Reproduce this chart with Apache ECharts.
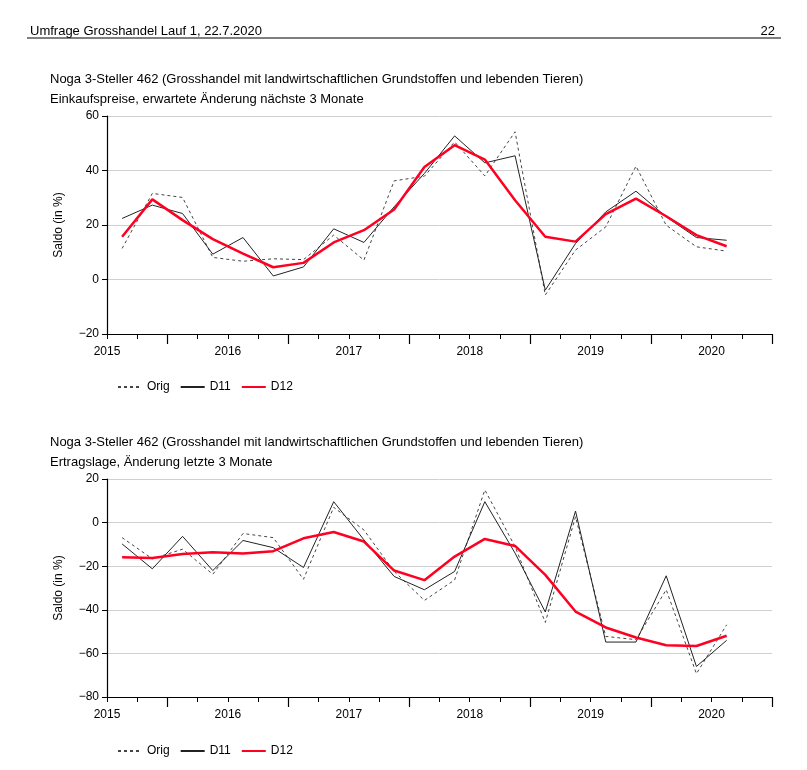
<!DOCTYPE html>
<html>
<head>
<meta charset="utf-8">
<script src="https://cdn.jsdelivr.net/npm/echarts@6/dist/echarts.min.js"></script>
<style>
  html, body { margin: 0; padding: 0; background: #fff; }
  #chart { width: 807px; height: 770px; }
</style>
</head>
<body>
<div id="chart"></div>
<script>
// quarterly points, placed mid-quarter
var startT = 2015.125;
var yearTicks = [2015, 2016, 2017, 2018, 2019, 2020];
var midYearTicks = [2015.5, 2016.5, 2017.5, 2018.5, 2019.5, 2020.5];

// Einkaufspreise, erwartete Änderung nächste 3 Monate
var ekOrig = [11.4, 31.6, 30.1, 8.1, 6.7, 7.6, 7.3, 16.3, 7.1, 36.2, 37.9, 50.5, 38.0, 54.2, -5.7, 10.8, 19.3, 41.6, 19.9, 12.0, 10.4];
var ekD11 = [22.4, 27.3, 24.2, 9.3, 15.4, 1.3, 4.6, 18.6, 13.6, 26.7, 38.9, 52.7, 42.8, 45.4, -3.9, 13.2, 24.8, 32.4, 23.0, 15.4, 14.4];
var ekD12 = [15.7, 29.4, 21.8, 14.8, 9.5, 4.5, 6.1, 13.6, 18.1, 25.7, 41.3, 49.3, 44.0, 29.1, 15.7, 13.9, 24.0, 29.7, 23.2, 16.3, 12.2];

// Ertragslage, Änderung letzte 3 Monate
var erOrig = [-6.9, -16.6, -12.2, -23.7, -5.0, -6.9, -26.0, 7.0, -3.4, -22.4, -35.7, -26.3, 15.0, -11.0, -45.8, 2.7, -52.2, -53.7, -30.8, -69.3, -46.9];
var erD11 = [-9.8, -21.2, -6.3, -22.0, -8.2, -11.5, -20.6, 9.6, -7.9, -24.7, -30.8, -22.4, 9.6, -14.0, -41.0, 5.3, -54.8, -54.8, -24.4, -66.0, -54.0];
var erD12 = [-15.9, -16.2, -14.4, -13.6, -14.2, -13.1, -7.2, -4.3, -8.7, -22.0, -26.4, -15.6, -7.5, -10.7, -24.0, -40.8, -48.1, -52.7, -56.3, -56.6, -51.9];

function pairs(arr) {
    return arr.map(function (v, i) { return [startT + i * 0.25, v]; });
}

var font = 'Liberation Sans, Arial, sans-serif';
var grids = [
    { left: 107, top: 116, width: 665, height: 218 },
    { left: 107, top: 479, width: 665, height: 218 }
];

function xAxes(gi) {
    return [{
        type: 'value', gridIndex: gi, min: 2015, max: 2020.5, interval: 0.25,
        axisLine: { onZero: false, lineStyle: { color: '#000', width: 1.2 } },
        axisTick: { length: 5, lineStyle: { color: '#000' } },
        axisLabel: { customValues: yearTicks, color: '#000', fontSize: 12, fontFamily: font, margin: 12,
                     formatter: function (v) { return String(Math.round(v)); } },
        splitLine: { show: false }
    }, {
        type: 'value', gridIndex: gi, min: 2015, max: 2020.5, position: 'bottom',
        axisLine: { show: false, onZero: false },
        axisTick: { customValues: midYearTicks, length: 10, lineStyle: { color: '#000', width: 1.2 } },
        axisLabel: { show: false },
        splitLine: { show: false }
    }];
}

function yAxis(gi, min, max) {
    return {
        type: 'value', gridIndex: gi, min: min, max: max, interval: 20,
        name: 'Saldo (in %)', nameLocation: 'middle', nameGap: 42, nameRotate: 90,
        nameTextStyle: { color: '#000', fontSize: 12, fontFamily: font },
        axisLine: { show: true, lineStyle: { color: '#000', width: 1.2 } },
        axisTick: { show: true, length: 5, lineStyle: { color: '#000' } },
        axisLabel: { color: '#000', fontSize: 12, fontFamily: font, margin: 8,
                     formatter: function (v) { return v < 0 ? '\u2212' + (-v) : String(v); } },
        splitLine: { lineStyle: { color: '#d0d0d0', width: 1 } }
    };
}

function seriesFor(gi, orig, d11, d12) {
    var xi = gi * 2;
    return [
        { name: 'Orig', type: 'line', xAxisIndex: xi, yAxisIndex: gi, data: pairs(orig), symbol: 'none',
          lineStyle: { color: '#444', width: 1, type: [3, 3] }, itemStyle: { color: '#444' }, z: 2 },
        { name: 'D11', type: 'line', xAxisIndex: xi, yAxisIndex: gi, data: pairs(d11), symbol: 'none',
          lineStyle: { color: '#222', width: 1 }, itemStyle: { color: '#222' }, z: 3 },
        { name: 'D12', type: 'line', xAxisIndex: xi, yAxisIndex: gi, data: pairs(d12), symbol: 'none',
          lineStyle: { color: '#ff0022', width: 2.5 }, itemStyle: { color: '#ff0022' }, z: 4 }
    ];
}

function legend(top) {
    return {
        data: ['Orig', 'D11', 'D12'], left: 112, top: top, itemWidth: 24, itemHeight: 10, itemGap: 10,
        selectedMode: false, itemStyle: { opacity: 0 },
        textStyle: { color: '#000', fontSize: 12, fontFamily: font }
    };
}

var chart = echarts.init(document.getElementById('chart'));
chart.setOption({
    animation: false,
    title: [
        { text: 'Umfrage Grosshandel Lauf 1, 22.7.2020', left: 25, top: 20,
          textStyle: { fontSize: 13, fontWeight: 'normal', color: '#000', fontFamily: font } },
        { text: '22', right: 27, top: 20,
          textStyle: { fontSize: 13, fontWeight: 'normal', color: '#000', fontFamily: font } },
        { text: 'Noga 3-Steller 462 (Grosshandel mit landwirtschaftlichen Grundstoffen und lebenden Tieren)\nEinkaufspreise, erwartete Änderung nächste 3 Monate',
          left: 45, top: 64,
          textStyle: { fontSize: 13, fontWeight: 'normal', color: '#000', fontFamily: font, lineHeight: 20 } },
        { text: 'Noga 3-Steller 462 (Grosshandel mit landwirtschaftlichen Grundstoffen und lebenden Tieren)\nErtragslage, Änderung letzte 3 Monate',
          left: 45, top: 427,
          textStyle: { fontSize: 13, fontWeight: 'normal', color: '#000', fontFamily: font, lineHeight: 20 } }
    ],
    graphic: [{ type: 'line', shape: { x1: 27, y1: 38, x2: 781, y2: 38 }, style: { stroke: '#000', lineWidth: 1 } }],
    legend: [legend(376), legend(740)],
    grid: grids,
    xAxis: xAxes(0).concat(xAxes(1)),
    yAxis: [yAxis(0, -20, 60), yAxis(1, -80, 20)],
    series: seriesFor(0, ekOrig, ekD11, ekD12).concat(seriesFor(1, erOrig, erD11, erD12))
});
</script>
</body>
</html>
